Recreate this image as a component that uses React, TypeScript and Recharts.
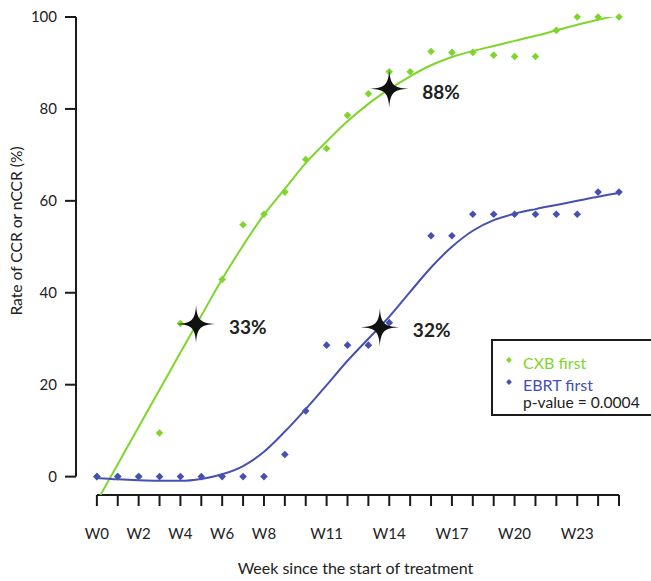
import React from 'react';
import { ComposedChart, Line, Scatter, XAxis, YAxis, ReferenceLine, Legend } from 'recharts';

const weeks = [0, 1, 2, 3, 4, 5, 6, 7, 8, 9, 10, 11, 12, 13, 14, 15, 16, 17, 18, 19, 20, 21, 22, 23, 24, 25];
const xTickLabels = ['W0', '', 'W2', '', 'W4', '', 'W6', '', 'W8', '', '', 'W11', '', '', 'W14', '', '', 'W17', '', '', 'W20', '', '', 'W23', '', ''];
const yTicks = [0, 20, 40, 60, 80, 100];

const cxbFirst = [0, 0, 0, 9.5, 33.3, 33.3, 42.9, 54.8, 57.1, 61.9, 69.0, 71.4, 78.6, 83.3, 88.1, 88.1, 92.5, 92.3, 92.3, 91.7, 91.4, 91.4, 97.1, 100, 100, 100];
const ebrtFirst: (number | null)[] = [0, 0, 0, 0, 0, 0, 0, 0, 0, 4.8, 14.3, 28.6, 28.6, 28.6, 33.5, null, 52.4, 52.4, 57.1, 57.1, 57.1, 57.1, 57.1, 57.1, 61.9, 61.9];

const cxbTrend = [-5.4, 2.7, 10.8, 18.9, 27.0, 35.0, 43.0, 50.3, 57.0, 62.6, 68.2, 72.9, 77.3, 81.1, 84.3, 87.1, 89.5, 91.3, 92.6, 93.7, 94.8, 95.9, 97.1, 98.3, 99.4, 100.4];
const ebrtTrend = [-0.3, -0.6, -0.8, -0.9, -0.9, -0.5, 0.5, 2.3, 5.4, 9.8, 14.7, 19.9, 25.2, 30.0, 34.8, 40.2, 45.5, 50.0, 53.5, 55.8, 57.2, 58.2, 59.1, 60.0, 60.9, 61.7];

const milestoneWeeks = [4.75, 14, 13.55];
const milestoneRates = [33.2, 84.4, 32.5];
const milestoneLabels = ['33%', '88%', '32%'];

const GREEN = '#7ED62C';
const BLUE = '#4650B2';
const INK = '#1a1a1a';
const FONT = 'Lato, "Noto Sans", sans-serif';

const trendData = weeks.map((w, i) => ({ x: w, cxb: cxbTrend[i], ebrt: ebrtTrend[i] }));
const cxbPoints = weeks.map((w, i) => ({ x: w, y: cxbFirst[i] }));
const ebrtPoints = weeks
  .map((w, i) => ({ x: w, y: ebrtFirst[i] }))
  .filter((p) => p.y !== null);
const starPoints = milestoneWeeks.map((w, i) => ({ x: w, y: milestoneRates[i], label: milestoneLabels[i] }));

const Diamond = (props: any) => {
  const { cx, cy, fill } = props;
  if (cx == null || cy == null) return null;
  const r = 3.8;
  return <path d={`M${cx},${cy - r} L${cx + r},${cy} L${cx},${cy + r} L${cx - r},${cy} Z`} fill={fill} />;
};

const Star = (props: any) => {
  const { cx, cy, payload } = props;
  if (cx == null || cy == null) return null;
  const R = 19;
  const a = 1;
  const b = 4.2;
  const d = [
    `M${cx},${cy - R}`,
    `C${cx + a},${cy - b} ${cx + b},${cy - a} ${cx + R},${cy}`,
    `C${cx + b},${cy + a} ${cx + a},${cy + b} ${cx},${cy + R}`,
    `C${cx - a},${cy + b} ${cx - b},${cy + a} ${cx - R},${cy}`,
    `C${cx - b},${cy - a} ${cx - a},${cy - b} ${cx},${cy - R}`,
    'Z',
  ].join(' ');
  return (
    <g>
      <path d={d} fill="#111" />
      <text x={cx + 33} y={cy + 3} dy="0.36em" fontFamily={FONT} fontWeight={700} fontSize={19} fill="#222">
        {payload.label}
      </text>
    </g>
  );
};

const LegendBox = () => {
  const dia = (x: number, y: number, c: string) => {
    const r = 2.9;
    return <path d={`M${x},${y - r} L${x + r},${y} L${x},${y + r} L${x - r},${y} Z`} fill={c} />;
  };
  return (
    <svg width={200} height={78} style={{ display: 'block' }}>
      <rect x={1} y={1} width={198} height={75} fill="#fff" stroke={INK} strokeWidth={2} />
      {dia(18, 21, GREEN)}
      {dia(18, 43, BLUE)}
      <text x={32} y={30} fontFamily={FONT} fontSize={16} fill={GREEN}>CXB first</text>
      <text x={32} y={51.5} fontFamily={FONT} fontSize={16} fill={BLUE}>EBRT first</text>
      <text x={32} y={68.5} fontFamily={FONT} fontSize={15.6} fill="#222">p-value = 0.0004</text>
    </svg>
  );
};

export default function App() {
  return (
    <div style={{ position: 'absolute', left: 0, top: 0, width: 651, height: 581, overflow: 'hidden', background: '#fff', fontFamily: FONT }}>
      <ComposedChart width={651} height={581} margin={{ top: 17, right: 32, bottom: 0, left: 0 }}>
        <XAxis
          type="number"
          dataKey="x"
          domain={[-1, 25]}
          ticks={weeks}
          interval={0}
          tickFormatter={(v: number) => xTickLabels[weeks.indexOf(v)] ?? ''}
          axisLine={false}
          tickLine={{ stroke: INK, strokeWidth: 2 }}
          tickSize={11}
          tickMargin={22}
          height={86}
          tick={{ fill: '#222', fontSize: 15, fontFamily: FONT }}
          label={{
            content: (p: any) => {
              const vb = p.viewBox || { x: 76, y: 495, width: 543 };
              return (
                <text x={vb.x + vb.width / 2 + 8} y={vb.y + 79} textAnchor="middle" fontFamily={FONT} fontSize={16} fill="#222">
                  Week since the start of treatment
                </text>
              );
            },
          }}
        />
        <YAxis
          type="number"
          domain={[-4, 100]}
          ticks={yTicks}
          allowDataOverflow
          axisLine={false}
          tickLine={{ stroke: INK, strokeWidth: 2 }}
          tickSize={11}
          tickMargin={8}
          width={76}
          tick={{ fill: '#222', fontSize: 15, fontFamily: FONT }}
          label={{
            content: (p: any) => {
              const vb = p.viewBox || { x: 0, y: 17, height: 478 };
              const x = vb.x + 22;
              const y = vb.y + vb.height / 2 - 25;
              return (
                <text x={x} y={y} transform={`rotate(-90 ${x} ${y})`} textAnchor="middle" fontFamily={FONT} fontSize={15.6} fill="#222">
                  Rate of CCR or nCCR (%)
                </text>
              );
            },
          }}
        />
        <YAxis yAxisId="pts" type="number" domain={[-4, 100]} hide />
        <ReferenceLine segment={[{ x: 0, y: -4 }, { x: 25, y: -4 }]} stroke={INK} strokeWidth={2} ifOverflow="visible" />
        <ReferenceLine segment={[{ x: -1, y: 0 }, { x: -1, y: 100 }]} stroke={INK} strokeWidth={2} ifOverflow="visible" />
        <Scatter yAxisId="pts" name="CXB first" data={cxbPoints} dataKey="y" fill={GREEN} shape={Diamond} isAnimationActive={false} />
        <Scatter yAxisId="pts" name="EBRT first" data={ebrtPoints} dataKey="y" fill={BLUE} shape={Diamond} isAnimationActive={false} />
        <Line data={trendData} dataKey="cxb" type="monotone" stroke={GREEN} strokeWidth={2} dot={false} activeDot={false} isAnimationActive={false} legendType="none" />
        <Line data={trendData} dataKey="ebrt" type="monotone" stroke={BLUE} strokeWidth={2} dot={false} activeDot={false} isAnimationActive={false} legendType="none" />
        <Scatter yAxisId="pts" data={starPoints} dataKey="y" fill="#111" shape={Star} isAnimationActive={false} legendType="none" />
        <Legend
          layout="horizontal"
          verticalAlign="middle"
          align="center"
          content={() => <LegendBox />}
          wrapperStyle={{ position: 'absolute', left: 491, top: 339, width: 200, height: 78 }}
        />
      </ComposedChart>
    </div>
  );
}
